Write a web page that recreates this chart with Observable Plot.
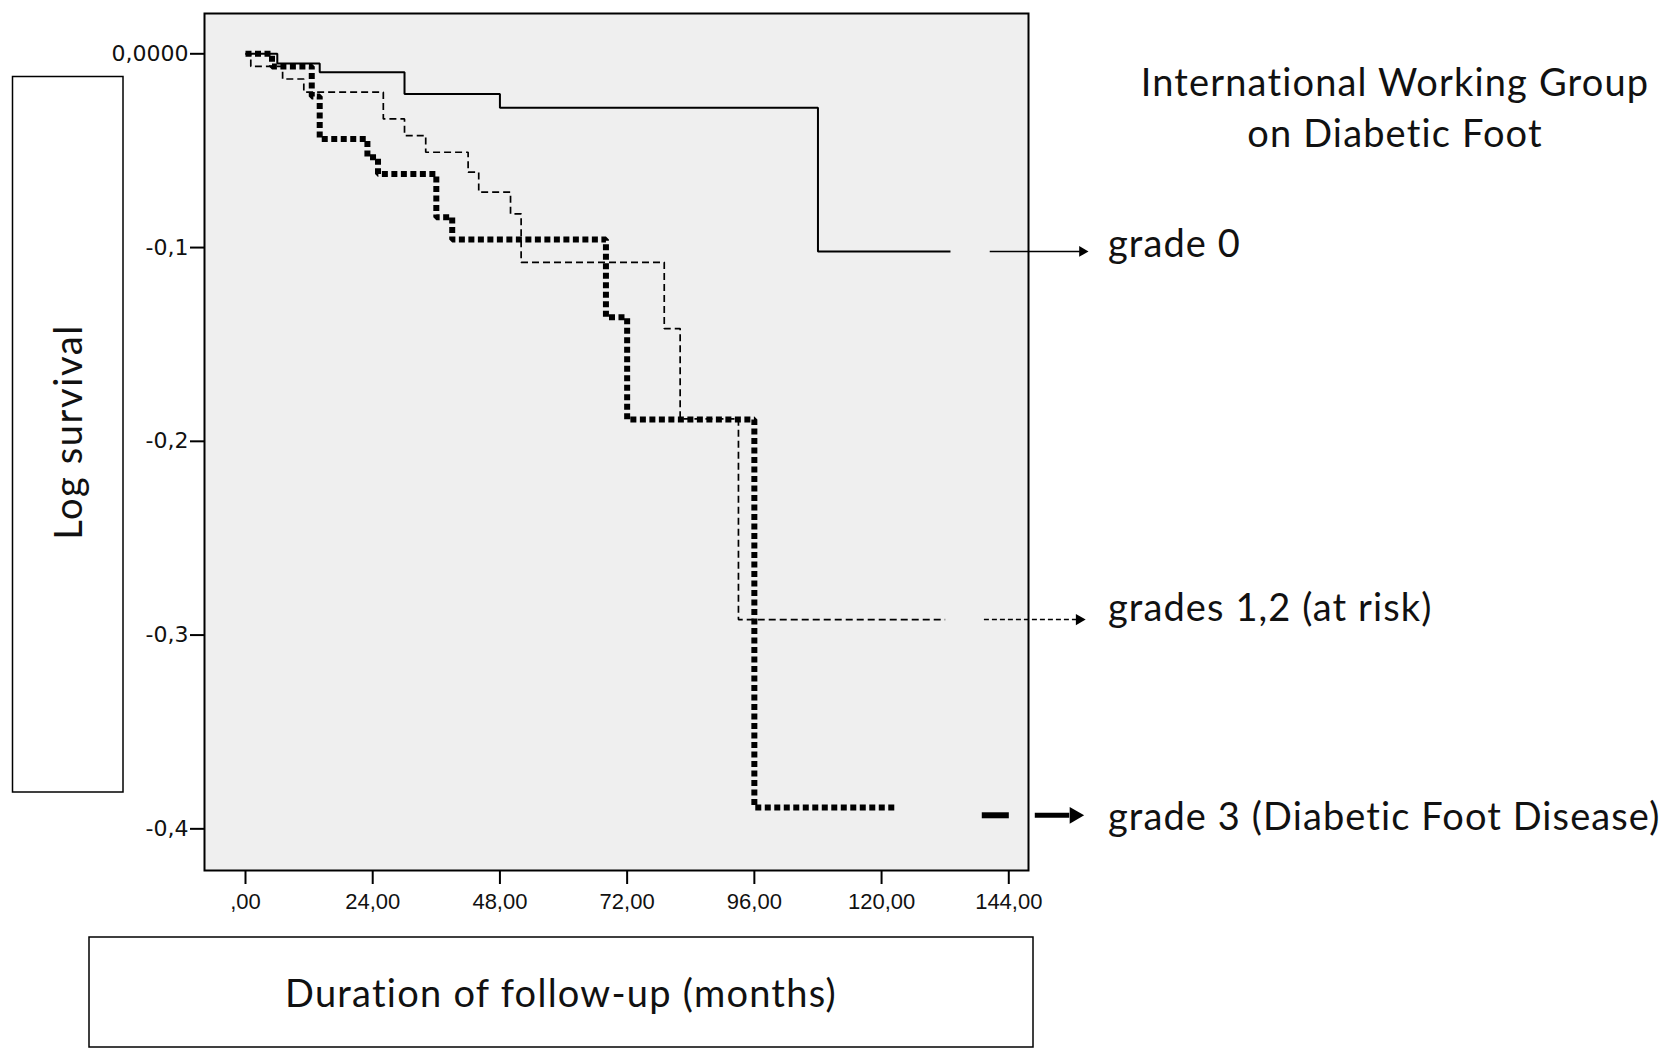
<!DOCTYPE html>
<html><head><meta charset="utf-8">
<script src="https://cdn.jsdelivr.net/npm/d3@7"></script>
<script src="https://cdn.jsdelivr.net/npm/@observablehq/plot@0.6"></script>
<style>
html,body{margin:0;padding:0;background:#fff;}
#wrap{position:relative;width:1665px;height:1048px;overflow:hidden;background:#fff;}
#chart{position:absolute;left:0;top:0;}
#over{position:absolute;left:0;top:0;pointer-events:none;}
</style></head><body>
<div id="wrap"><div id="chart"></div><svg id="over" width="1665" height="1048"></svg></div>
<script>
// ---- data (months, log survival) ----
const grade0Months   = [0, 6, 14, 30, 48, 108, 133];
const grade0LogSurv  = [0, -0.005, -0.0095, -0.0207, -0.0278, -0.102, -0.102];
const grade12Months  = [0, 1, 7, 11, 26, 30, 34, 42, 44, 50, 52, 79, 82, 93, 132];
const grade12LogSurv = [0, -0.0065, -0.013, -0.0198, -0.0336, -0.0422, -0.0508, -0.0611, -0.0714, -0.0826, -0.1076, -0.1418, -0.1884, -0.292, -0.292];
const grade3Months   = [0, 5, 12.5, 14, 23, 25, 36, 39, 68, 72, 96, 123];
const grade3LogSurv  = [0, -0.0065, -0.022, -0.044, -0.0534, -0.062, -0.0843, -0.0958, -0.136, -0.1887, -0.389, -0.389];
const xTicks = [0, 24, 48, 72, 96, 120, 144];
const xTickLabels = [",00", "24,00", "48,00", "72,00", "96,00", "120,00", "144,00"];
const yTicks = [0, -0.1, -0.2, -0.3, -0.4];
const yTickLabels = ["0,0000", "-0,1", "-0,2", "-0,3", "-0,4"];
const seriesNames = ["grade 0", "grades 1,2 (at risk)", "grade 3 (Diabetic Foot Disease)"];
const titleLines = ["International Working Group", "on Diabetic Foot"];
const yLabel = "Log survival";
const xLabel = "Duration of follow-up (months)";

const toRows = (ms, vs) => ms.map((m, i) => ({t: m, s: vs[i]}));
const g0 = toRows(grade0Months, grade0LogSurv);
const g12 = toRows(grade12Months, grade12LogSurv);
const g3 = toRows(grade3Months, grade3LogSurv);

// legend arrows (annotation, in chart units)
const arrowThin = [{x1: 140.5, x2: 157.5, tip: 159.0, y: grade0LogSurv[grade0LogSurv.length - 1]}];
const arrowDash = [{x1: 139.4, x2: 157.0, tip: 158.5, y: grade12LogSurv[grade12LogSurv.length - 1]}];
const arrowThick = [{x1: 149.0, x2: 155.5, tip: 158.1, y: -0.393}];
const thickDash = [{x1: 139.0, x2: 144.1, y: -0.393}];

const plot = Plot.plot({
  width: 1665, height: 930,
  marginLeft: 204, marginRight: 637, marginTop: 13, marginBottom: 60,
  style: {background: "transparent", fontFamily: "'Liberation Sans', Arial, sans-serif", color: "#000", overflow: "visible"},
  x: {domain: [-7.735, 147.72], label: null},
  y: {domain: [-0.4215, 0.0208], label: null},
  marks: [
    Plot.frame({fill: "#efefef", stroke: null}),
    Plot.line(g0, {x: "t", y: "s", curve: "step-after", stroke: "#000", strokeWidth: 2, strokeLinecap: "butt", strokeLinejoin: "miter"}),
    Plot.line(g12, {x: "t", y: "s", curve: "step-after", stroke: "#000", strokeWidth: 1.7, strokeDasharray: "7,4", strokeLinecap: "butt", strokeLinejoin: "miter"}),
    Plot.line(g3, {x: "t", y: "s", curve: "step-after", stroke: "#000", strokeWidth: 6, strokeDasharray: "6,3.5", strokeLinecap: "butt", strokeLinejoin: "miter"}),
    Plot.frame({stroke: "#000", strokeWidth: 2}),
    Plot.axisX({ticks: xTicks, tickFormat: d => xTickLabels[xTicks.indexOf(d)], tickSize: 14, tickPadding: 9,
      stroke: "#000", strokeWidth: 2, fontSize: 22, fill: "#111", label: null}),
    Plot.axisY({ticks: yTicks, tickFormat: d => yTickLabels[yTicks.indexOf(d)], tickSize: 14, tickPadding: 2,
      stroke: "#000", strokeWidth: 2, fontSize: 22, fontFamily: "'DejaVu Sans', sans-serif", fill: "#111", label: null}),
    // legend arrows
    Plot.ruleY(arrowThin, {y: "y", x1: "x1", x2: "x2", stroke: "#000", strokeWidth: 1.5}),
    Plot.dot(arrowThin, {x: "tip", y: "y", symbol: "triangle", r: 4, rotate: 90, fill: "#000", stroke: null, dx: -6}),
    Plot.ruleY(arrowDash, {y: "y", x1: "x1", x2: "x2", stroke: "#000", strokeWidth: 1.5, strokeDasharray: "5,3"}),
    Plot.dot(arrowDash, {x: "tip", y: "y", symbol: "triangle", r: 4.2, rotate: 90, fill: "#000", stroke: null, dx: -6.5}),
    Plot.ruleY(thickDash, {y: "y", x1: "x1", x2: "x2", stroke: "#000", strokeWidth: 6}),
    Plot.ruleY(arrowThick, {y: "y", x1: "x1", x2: "x2", stroke: "#000", strokeWidth: 5}),
    Plot.dot(arrowThick, {x: "tip", y: "y", symbol: "triangle", r: 6.2, rotate: 90, fill: "#000", stroke: null, dx: -9})
  ]
});
document.getElementById("chart").appendChild(plot);

// ---- surrounding annotation texts and boxes ----
const over = d3.select("#over");
const font = "Lato, 'Open Sans', sans-serif";
const addText = (sel, size, spacing) => sel.attr("font-family", font).attr("font-size", size)
  .attr("letter-spacing", spacing).attr("fill", "#111");
over.append("rect").attr("x", 12.5).attr("y", 76.5).attr("width", 110.5).attr("height", 715.5)
  .attr("fill", "none").attr("stroke", "#000").attr("stroke-width", 1.5);
addText(over.append("text").attr("transform", "translate(82,432) rotate(-90)").attr("text-anchor", "middle"), 38, 1.6).text(yLabel);
over.append("rect").attr("x", 89).attr("y", 937).attr("width", 944).attr("height", 110)
  .attr("fill", "none").attr("stroke", "#000").attr("stroke-width", 1.5);
addText(over.append("text").attr("x", 561).attr("y", 1007).attr("text-anchor", "middle"), 38, 1.25).text(xLabel);
const titleBase = [96, 147];
titleLines.forEach((t, i) => addText(over.append("text").attr("x", 1395).attr("y", titleBase[i]).attr("text-anchor", "middle"), 38, 1.15).text(t));
const legBase = [257, 621, 830];
seriesNames.forEach((t, i) => addText(over.append("text").attr("x", 1108).attr("y", legBase[i]), 38, 1.1).text(t));
</script>
</body></html>
